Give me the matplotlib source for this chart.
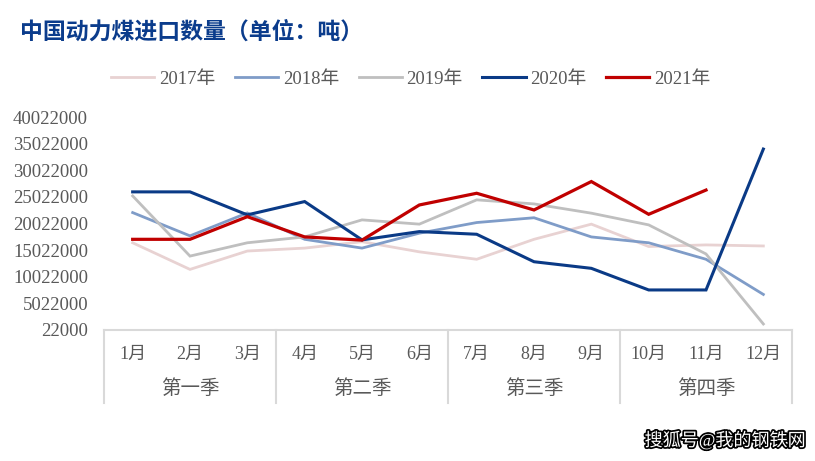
import matplotlib
matplotlib.use("Agg")
import matplotlib.pyplot as plt
import matplotlib.transforms as mtransforms
import matplotlib.patheffects as pe

plt.rcParams['font.family'] = ['Liberation Serif', 'Noto Sans CJK SC']

months = ['1月', '2月', '3月', '4月', '5月', '6月', '7月', '8月', '9月', '10月', '11月', '12月']
quarters = ['第一季', '第二季', '第三季', '第四季']
years = ['2017年', '2018年', '2019年', '2020年', '2021年']

# import volume, tonnes
v2017 = [16.4e6, 11.4e6, 14.85e6, 15.4e6, 16.6e6, 14.7e6, 13.3e6, 17.05e6, 19.9e6, 15.7e6, 16.0e6, 15.8e6]
v2018 = [22.07e6, 17.7e6, 22.0e6, 17.05e6, 15.4e6, 18.2e6, 20.2e6, 21.1e6, 17.5e6, 16.4e6, 13.3e6, 6.7e6]
v2019 = [25.2e6, 13.9e6, 16.4e6, 17.5e6, 20.7e6, 19.9e6, 24.46e6, 23.7e6, 21.96e6, 19.76e6, 14.3e6, 1.15e6]
v2020 = [25.96e6, 25.96e6, 21.64e6, 24.14e6, 16.94e6, 18.5e6, 18.0e6, 12.84e6, 11.6e6, 7.54e6, 7.54e6, 34.0e6]
v2021 = [17.05e6, 17.05e6, 21.3e6, 17.5e6, 16.9e6, 23.5e6, 25.7e6, 22.56e6, 27.9e6, 21.75e6, 26.3e6]

yticks = [22000 + 5000000 * i for i in range(9)]

colors = ['#E8D2D2', '#7F9CC8', '#BFBFBF', '#0A3A86', '#C00000']
widths = [2.0, 2.0, 2.0, 2.2, 2.3]

fig = plt.figure(figsize=(8.15, 4.61), dpi=100)
ax = fig.add_axes([0.1276, 0.2842, 0.8442, 0.462])

x = list(range(12))
series = [v2017, v2018, v2019, v2020, v2021]
for vals, lab, c, w in zip(series, years, colors, widths):
    ax.plot(x[:len(vals)], vals, color=c, lw=w, label=lab, solid_joinstyle='miter')

ax.set_xlim(-0.5, 11.5)
ax.set_ylim(22000, 40022000)
ax.set_yticks(yticks)
ax.set_yticklabels([str(t) for t in yticks], fontsize=13.5, color='#595959')
ax.tick_params(axis='y', length=0, pad=11.5)
ax.set_xticks([])
for s in ['top', 'right', 'left']:
    ax.spines[s].set_visible(False)
ax.spines['bottom'].set_color('#D9D9D9')
ax.spines['bottom'].set_linewidth(1.5)

# category table under the axis
trans = mtransforms.blended_transform_factory(ax.transData, ax.transAxes)
for b in [-0.5, 2.5, 5.5, 8.5, 11.5]:
    ax.plot([b, b], [0, -0.343], transform=trans, color='#D9D9D9', lw=1.5, clip_on=False)
for i, m in enumerate(months):
    ax.text(i, -0.113, m, transform=trans, ha='center', va='center', fontsize=13, color='#595959')
for i, q in enumerate(quarters):
    ax.text(3 * i + 1, -0.277, q, transform=trans, ha='center', va='center', fontsize=14,
            color='#595959')

fig.text(0.0245, 0.93, '中国动力煤进口数量（单位：吨）', fontsize=16.5, fontweight='bold',
         color='#0B3C8C', ha='left', va='center')

fig.legend(loc='center', bbox_to_anchor=(0.504, 0.828), ncol=5, frameon=False,
           fontsize=13.5, handlelength=2.3, handletextpad=0.25, columnspacing=1.05,
           labelcolor='#595959')

fig.text(0.988, 0.045, '搜狐号@我的钢铁网', fontsize=13, color='white', ha='right', va='center',
         path_effects=[pe.withStroke(linewidth=2.5, foreground='black')])

fig.savefig('out.png', dpi=100)
